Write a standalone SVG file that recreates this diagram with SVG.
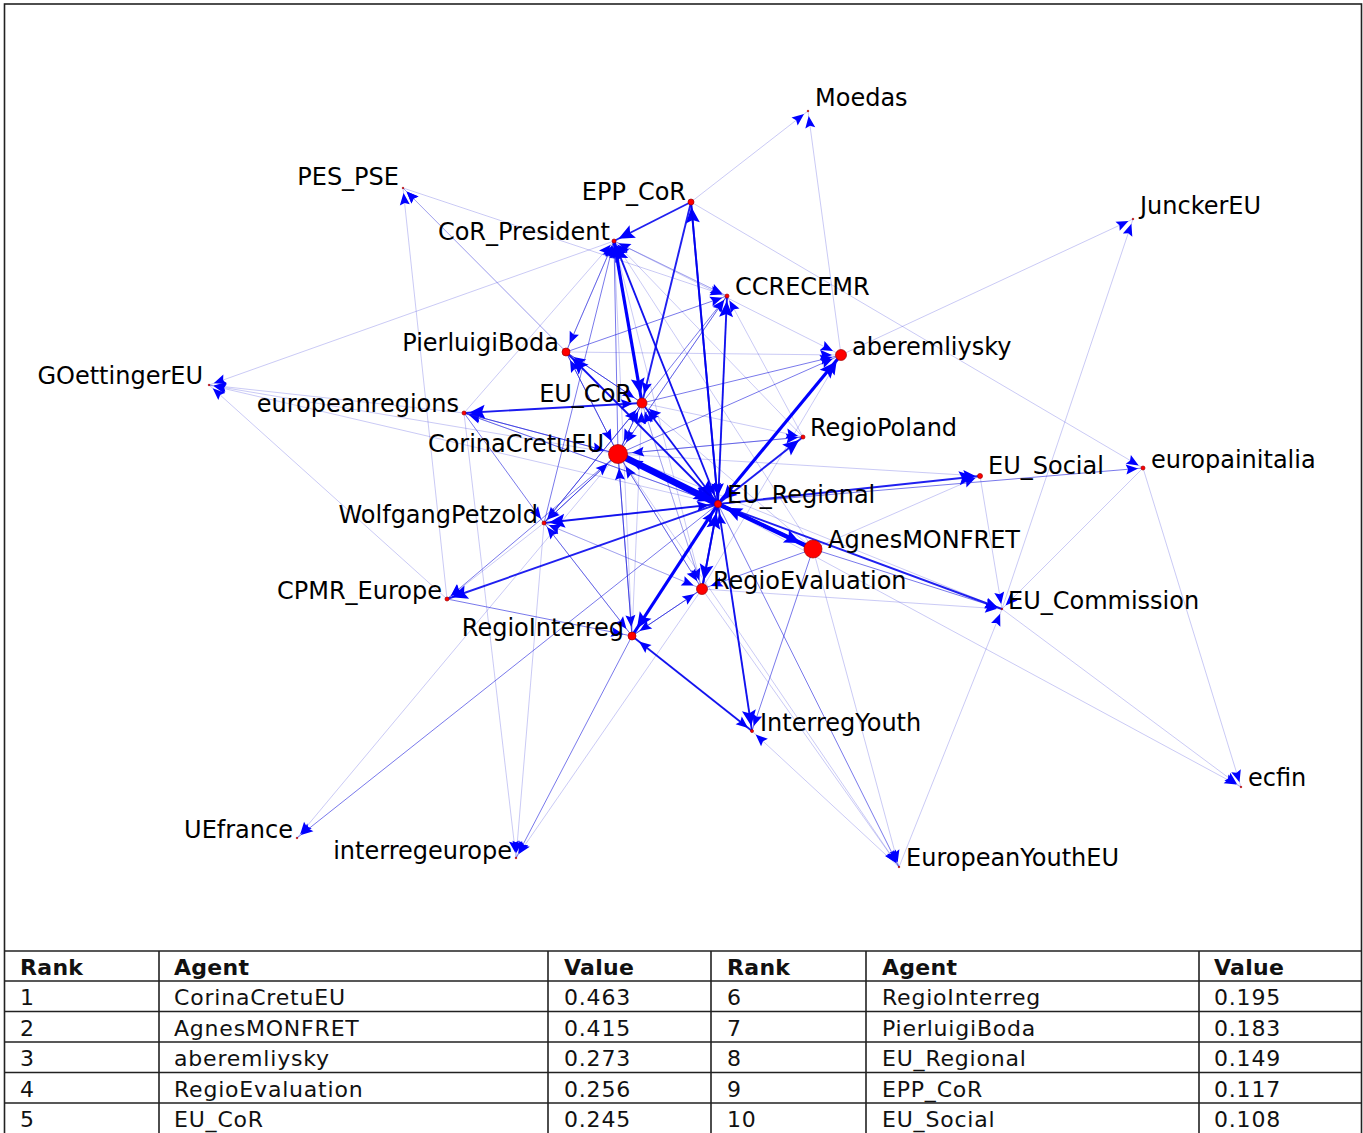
<svg xmlns="http://www.w3.org/2000/svg" width="1363" height="1133" viewBox="0 0 1363 1133">
<style>
.lbl{font-family:"DejaVu Sans",Verdana,sans-serif;font-size:24px;fill:#000}
.end{text-anchor:end}
.e1{stroke:#3030d8;stroke-opacity:.32;stroke-width:.8}
.e2{stroke:#2020dd;stroke-opacity:.6;stroke-width:1}
.e3{stroke:#0000ee;stroke-opacity:.88;stroke-width:1.9}
.e4{stroke:#0000ff;stroke-width:3.2}
.e5{stroke:#0000ff;stroke-width:4.2}
.e6{stroke:#0000ff;stroke-width:6.5}
.s5{marker-end:url(#a5)}.s9{marker-end:url(#a9)}.s14{marker-end:url(#a14)}
.b5{marker-end:url(#b5)}.b9{marker-end:url(#b9)}.b14{marker-end:url(#b14)}
.dot{fill:#ff0000;stroke:#a00000;stroke-width:.7}
.tk{font-family:"DejaVu Sans",sans-serif;font-size:22px;letter-spacing:.8px;fill:#111}
.th{font-family:"DejaVu Sans",sans-serif;font-size:22px;font-weight:bold;letter-spacing:.3px;fill:#111}
.grid{stroke:#222;stroke-width:1.6;fill:none}
</style>
<defs>
<marker id="a5" markerUnits="userSpaceOnUse" orient="auto" viewBox="-40 -20 45 40" markerWidth="45" markerHeight="40" refX="0" refY="0"><path d="M-5,0 L-17,-5 L-15,0 L-17,5 Z" fill="#0000ff"/></marker>
<marker id="a9" markerUnits="userSpaceOnUse" orient="auto" viewBox="-40 -20 45 40" markerWidth="45" markerHeight="40" refX="0" refY="0"><path d="M-9,0 L-21,-5 L-19,0 L-21,5 Z" fill="#0000ff"/></marker>
<marker id="a14" markerUnits="userSpaceOnUse" orient="auto" viewBox="-40 -20 45 40" markerWidth="45" markerHeight="40" refX="0" refY="0"><path d="M-14,0 L-26,-5 L-24,0 L-26,5 Z" fill="#0000ff"/></marker>
<marker id="b5" markerUnits="userSpaceOnUse" orient="auto" viewBox="-40 -20 45 40" markerWidth="45" markerHeight="40" refX="0" refY="0"><path d="M-5,0 L-21,-7 L-18,0 L-21,7 Z" fill="#0000ff"/></marker>
<marker id="b9" markerUnits="userSpaceOnUse" orient="auto" viewBox="-40 -20 45 40" markerWidth="45" markerHeight="40" refX="0" refY="0"><path d="M-9,0 L-25,-7 L-22,0 L-25,7 Z" fill="#0000ff"/></marker>
<marker id="b14" markerUnits="userSpaceOnUse" orient="auto" viewBox="-40 -20 45 40" markerWidth="45" markerHeight="40" refX="0" refY="0"><path d="M-14,0 L-30,-7 L-27,0 L-30,7 Z" fill="#0000ff"/></marker>
</defs>
<rect x="0" y="0" width="1363" height="1133" fill="#fff"/>
<rect x="4.5" y="4" width="1357" height="1140" fill="none" stroke="#222" stroke-width="1.6"/>

<g id="connectors" fill="none">
<line x1="618" y1="454" x2="1002" y2="609" class="e1 s5"/>
<line x1="980" y1="476" x2="1002" y2="609" class="e1 s5"/>
<line x1="1143" y1="468" x2="1002" y2="609" class="e1 s5"/>
<line x1="899" y1="867" x2="1002" y2="609" class="e1 s5"/>
<line x1="702" y1="589" x2="544" y2="523" class="e1 s5"/>
<line x1="632" y1="636" x2="544" y2="523" class="e1 s5"/>
<line x1="544" y1="523" x2="447" y2="599" class="e1 s5"/>
<line x1="447" y1="599" x2="403" y2="188" class="e1 s5"/>
<line x1="447" y1="599" x2="209" y2="385" class="e1 s5"/>
<line x1="464" y1="413" x2="209" y2="385" class="e1 s5"/>
<line x1="618" y1="454" x2="209" y2="385" class="e1 s5"/>
<line x1="718" y1="504" x2="209" y2="385" class="e1 s5"/>
<line x1="614" y1="241" x2="209" y2="385" class="e1 s5"/>
<line x1="614" y1="241" x2="566" y2="352" class="e1 s9"/>
<line x1="614" y1="241" x2="727" y2="296" class="e1 s5"/>
<line x1="803" y1="437" x2="727" y2="296" class="e1 s5"/>
<line x1="632" y1="636" x2="614" y2="241" class="e1 s5"/>
<line x1="727" y1="296" x2="614" y2="241" class="e1 s5"/>
<line x1="702" y1="589" x2="614" y2="241" class="e1 s5"/>
<line x1="813" y1="549" x2="614" y2="241" class="e1 s5"/>
<line x1="464" y1="413" x2="614" y2="241" class="e1 s5"/>
<line x1="803" y1="437" x2="614" y2="241" class="e1 s5"/>
<line x1="566" y1="352" x2="841" y2="355" class="e1 s9"/>
<line x1="614" y1="241" x2="841" y2="355" class="e1 s9"/>
<line x1="702" y1="589" x2="841" y2="355" class="e1 s9"/>
<line x1="841" y1="355" x2="808" y2="111" class="e1 s5"/>
<line x1="691" y1="202" x2="808" y2="111" class="e1 s5"/>
<line x1="841" y1="355" x2="1133" y2="219" class="e1 s5"/>
<line x1="642" y1="403" x2="803" y2="437" class="e1 s5"/>
<line x1="642" y1="403" x2="702" y2="589" class="e1 s9"/>
<line x1="544" y1="523" x2="702" y2="589" class="e1 s9"/>
<line x1="702" y1="589" x2="618" y2="454" class="e1 s14"/>
<line x1="813" y1="549" x2="618" y2="454" class="e1 s14"/>
<line x1="727" y1="296" x2="618" y2="454" class="e1 s14"/>
<line x1="803" y1="437" x2="618" y2="454" class="e1 s14"/>
<line x1="632" y1="636" x2="642" y2="403" class="e1 s9"/>
<line x1="464" y1="413" x2="642" y2="403" class="e1 s9"/>
<line x1="813" y1="549" x2="642" y2="403" class="e1 s9"/>
<line x1="702" y1="589" x2="642" y2="403" class="e1 s9"/>
<line x1="899" y1="867" x2="752" y2="731" class="e1 s5"/>
<line x1="618" y1="454" x2="899" y2="867" class="e1 s5"/>
<line x1="702" y1="589" x2="899" y2="867" class="e1 s5"/>
<line x1="813" y1="549" x2="899" y2="867" class="e1 s5"/>
<line x1="718" y1="504" x2="1241" y2="787" class="e1 s5"/>
<line x1="1002" y1="609" x2="1241" y2="787" class="e1 s5"/>
<line x1="1143" y1="468" x2="1241" y2="787" class="e1 s5"/>
<line x1="618" y1="454" x2="297" y2="838" class="e1 s5"/>
<line x1="702" y1="589" x2="516" y2="858" class="e1 s5"/>
<line x1="464" y1="413" x2="516" y2="858" class="e1 s5"/>
<line x1="544" y1="523" x2="516" y2="858" class="e1 s5"/>
<line x1="566" y1="352" x2="403" y2="188" class="e1 s5"/>
<line x1="718" y1="504" x2="403" y2="188" class="e1 s5"/>
<line x1="403" y1="188" x2="727" y2="296" class="e1 s5"/>
<line x1="691" y1="202" x2="1143" y2="468" class="e1 s5"/>
<line x1="1002" y1="609" x2="1133" y2="219" class="e1 s5"/>
<line x1="618" y1="454" x2="980" y2="476" class="e1 s5"/>
<line x1="813" y1="549" x2="980" y2="476" class="e1 s5"/>
<line x1="702" y1="589" x2="1002" y2="609" class="e1 s5"/>
<line x1="464" y1="413" x2="718" y2="504" class="e1 s9"/>
<line x1="803" y1="437" x2="718" y2="504" class="e1 s9"/>

<line x1="632" y1="636" x2="718" y2="504" class="e2 s9"/>
<line x1="718" y1="504" x2="642" y2="403" class="e2 s9"/>
<line x1="632" y1="636" x2="752" y2="731" class="e2 s5"/>
<line x1="718" y1="504" x2="1143" y2="468" class="e2 s5"/>
<line x1="813" y1="549" x2="1002" y2="609" class="e2 s5"/>
<line x1="618" y1="454" x2="544" y2="523" class="e2 s5"/>
<line x1="642" y1="403" x2="544" y2="523" class="e2 s5"/>
<line x1="464" y1="413" x2="544" y2="523" class="e2 s5"/>
<line x1="618" y1="454" x2="447" y2="599" class="e2 s5"/>
<line x1="447" y1="599" x2="632" y2="636" class="e2 s9"/>
<line x1="618" y1="454" x2="464" y2="413" class="e2 s5"/>
<line x1="718" y1="504" x2="464" y2="413" class="e2 s5"/>
<line x1="618" y1="454" x2="566" y2="352" class="e2 s9"/>
<line x1="642" y1="403" x2="566" y2="352" class="e2 s9"/>
<line x1="566" y1="352" x2="614" y2="241" class="e2 s5"/>
<line x1="566" y1="352" x2="642" y2="403" class="e2 s9"/>
<line x1="566" y1="352" x2="718" y2="504" class="e2 s9"/>
<line x1="642" y1="403" x2="727" y2="296" class="e2 s5"/>
<line x1="618" y1="454" x2="727" y2="296" class="e2 s5"/>
<line x1="566" y1="352" x2="727" y2="296" class="e2 s5"/>
<line x1="727" y1="296" x2="718" y2="504" class="e2 s9"/>
<line x1="618" y1="454" x2="614" y2="241" class="e2 s5"/>
<line x1="544" y1="523" x2="614" y2="241" class="e2 s5"/>
<line x1="642" y1="403" x2="614" y2="241" class="e2 s5"/>
<line x1="614" y1="241" x2="718" y2="504" class="e2 s9"/>
<line x1="618" y1="454" x2="841" y2="355" class="e2 s9"/>
<line x1="642" y1="403" x2="841" y2="355" class="e2 s9"/>
<line x1="618" y1="454" x2="803" y2="437" class="e2 s5"/>
<line x1="618" y1="454" x2="702" y2="589" class="e2 s9"/>
<line x1="632" y1="636" x2="702" y2="589" class="e2 s9"/>
<line x1="813" y1="549" x2="702" y2="589" class="e2 s9"/>
<line x1="618" y1="454" x2="632" y2="636" class="e2 s9"/>
<line x1="702" y1="589" x2="632" y2="636" class="e2 s9"/>
<line x1="544" y1="523" x2="632" y2="636" class="e2 s9"/>
<line x1="642" y1="403" x2="618" y2="454" class="e2 s14"/>
<line x1="566" y1="352" x2="618" y2="454" class="e2 s14"/>
<line x1="544" y1="523" x2="618" y2="454" class="e2 s14"/>
<line x1="464" y1="413" x2="618" y2="454" class="e2 s14"/>
<line x1="632" y1="636" x2="618" y2="454" class="e2 s14"/>
<line x1="618" y1="454" x2="642" y2="403" class="e2 s9"/>
<line x1="544" y1="523" x2="642" y2="403" class="e2 s9"/>
<line x1="752" y1="731" x2="718" y2="504" class="e2 s9"/>
<line x1="544" y1="523" x2="718" y2="504" class="e2 s9"/>
<line x1="841" y1="355" x2="718" y2="504" class="e2 s9"/>
<line x1="813" y1="549" x2="752" y2="731" class="e2 s5"/>
<line x1="718" y1="504" x2="899" y2="867" class="e2 s5"/>
<line x1="718" y1="504" x2="297" y2="838" class="e2 s5"/>
<line x1="632" y1="636" x2="516" y2="858" class="e2 s5"/>

<line x1="718" y1="504" x2="618" y2="454" class="e3 s14"/>
<line x1="718" y1="504" x2="803" y2="437" class="e3 b5"/>
<line x1="718" y1="504" x2="702" y2="589" class="e3 b9"/>
<line x1="702" y1="589" x2="718" y2="504" class="e3 b9"/>
<line x1="691" y1="202" x2="614" y2="241" class="e3 b5"/>
<line x1="691" y1="202" x2="642" y2="403" class="e3 s9"/>
<line x1="642" y1="403" x2="718" y2="504" class="e3 b9"/>
<line x1="718" y1="504" x2="752" y2="731" class="e3 b5"/>
<line x1="752" y1="731" x2="632" y2="636" class="e3 s9"/>
<line x1="718" y1="504" x2="980" y2="476" class="e3 b5"/>
<line x1="718" y1="504" x2="1002" y2="609" class="e3 s5"/>
<line x1="718" y1="504" x2="544" y2="523" class="e3 b5"/>
<line x1="718" y1="504" x2="447" y2="599" class="e3 b5"/>
<line x1="642" y1="403" x2="464" y2="413" class="e3 b5"/>
<line x1="718" y1="504" x2="566" y2="352" class="e3 b9"/>
<line x1="718" y1="504" x2="727" y2="296" class="e3 b5"/>
<line x1="718" y1="504" x2="614" y2="241" class="e3 b5"/>
<line x1="718" y1="504" x2="691" y2="202" class="e3 b5"/>
<line x1="691" y1="202" x2="718" y2="504" class="e3 s9"/>

<line x1="813" y1="549" x2="718" y2="504" class="e4 b9"/>
<line x1="718" y1="504" x2="841" y2="355" class="e4 b9"/>
<line x1="718" y1="504" x2="632" y2="636" class="e4 b9"/>
<line x1="614" y1="241" x2="642" y2="403" class="e4 b9"/>
<line x1="718" y1="504" x2="813" y2="549" class="e5 b14"/>
<line x1="618" y1="454" x2="718" y2="504" class="e6 b9"/>
</g>

<g id="node-Moedas"><circle cx="808" cy="111" r="0.8" class="dot"/><text x="815" y="105.5" class="lbl">Moedas</text></g>
<g id="node-PES_PSE"><circle cx="403" cy="188" r="0.8" class="dot"/><text x="399" y="184.5" class="lbl end">PES_PSE</text></g>
<g id="node-EPP_CoR"><circle cx="691" cy="202" r="3" class="dot"/><text x="686" y="199.5" class="lbl end">EPP_CoR</text></g>
<g id="node-CoR_President"><circle cx="614" cy="241" r="2" class="dot"/><text x="610" y="239.5" class="lbl end">CoR_President</text></g>
<g id="node-JunckerEU"><circle cx="1133" cy="219" r="0.8" class="dot"/><text x="1140" y="213.5" class="lbl">JunckerEU</text></g>
<g id="node-CCRECEMR"><circle cx="727" cy="296" r="2" class="dot"/><text x="735" y="294.5" class="lbl">CCRECEMR</text></g>
<g id="node-aberemliysky"><circle cx="841" cy="355" r="5.5" class="dot"/><text x="852" y="354.5" class="lbl">aberemliysky</text></g>
<g id="node-PierluigiBoda"><circle cx="566" cy="352" r="4" class="dot"/><text x="559" y="350.5" class="lbl end">PierluigiBoda</text></g>
<g id="node-GOettingerEU"><circle cx="209" cy="385" r="0.8" class="dot"/><text x="203" y="383.5" class="lbl end">GOettingerEU</text></g>
<g id="node-europeanregions"><circle cx="464" cy="413" r="2" class="dot"/><text x="459" y="411.5" class="lbl end">europeanregions</text></g>
<g id="node-EU_CoR"><circle cx="642" cy="403" r="5" class="dot"/><text x="632" y="401.5" class="lbl end">EU_CoR</text></g>
<g id="node-RegioPoland"><circle cx="803" cy="437" r="2" class="dot"/><text x="810" y="435.5" class="lbl">RegioPoland</text></g>
<g id="node-CorinaCretuEU"><circle cx="618" cy="454" r="9.5" class="dot"/><text x="604" y="451.5" class="lbl end">CorinaCretuEU</text></g>
<g id="node-EU_Social"><circle cx="980" cy="476" r="2.5" class="dot"/><text x="988" y="473.5" class="lbl">EU_Social</text></g>
<g id="node-europainitalia"><circle cx="1143" cy="468" r="2" class="dot"/><text x="1151" y="467.5" class="lbl">europainitalia</text></g>
<g id="node-EU_Regional"><circle cx="718" cy="504" r="3.5" class="dot"/><text x="727" y="502.5" class="lbl">EU_Regional</text></g>
<g id="node-WolfgangPetzold"><circle cx="544" cy="523" r="2" class="dot"/><text x="538" y="522.5" class="lbl end">WolfgangPetzold</text></g>
<g id="node-AgnesMONFRET"><circle cx="813" cy="549" r="9" class="dot"/><text x="828" y="547.5" class="lbl">AgnesMONFRET</text></g>
<g id="node-RegioEvaluation"><circle cx="702" cy="589" r="5.5" class="dot"/><text x="713" y="588.5" class="lbl">RegioEvaluation</text></g>
<g id="node-CPMR_Europe"><circle cx="447" cy="599" r="2" class="dot"/><text x="442" y="598.5" class="lbl end">CPMR_Europe</text></g>
<g id="node-EU_Commission"><circle cx="1002" cy="609" r="0.8" class="dot"/><text x="1008" y="608.5" class="lbl">EU_Commission</text></g>
<g id="node-RegioInterreg"><circle cx="632" cy="636" r="4" class="dot"/><text x="624" y="635.5" class="lbl end">RegioInterreg</text></g>
<g id="node-InterregYouth"><circle cx="752" cy="731" r="1.5" class="dot"/><text x="760" y="730.5" class="lbl">InterregYouth</text></g>
<g id="node-ecfin"><circle cx="1241" cy="787" r="0.8" class="dot"/><text x="1248" y="785.5" class="lbl">ecfin</text></g>
<g id="node-UEfrance"><circle cx="297" cy="838" r="0.8" class="dot"/><text x="293" y="837.5" class="lbl end">UEfrance</text></g>
<g id="node-interregeurope"><circle cx="516" cy="858" r="0.8" class="dot"/><text x="512" y="858.5" class="lbl end">interregeurope</text></g>
<g id="node-EuropeanYouthEU"><circle cx="899" cy="867" r="0.8" class="dot"/><text x="906" y="865.5" class="lbl">EuropeanYouthEU</text></g>

<g id="table">
<path class="grid" d="M4.5,951H1362M4.5,981H1362M4.5,1011.5H1362M4.5,1042H1362M4.5,1072.5H1362M4.5,1103H1362M159,951V1140M548,951V1140M711,951V1140M866,951V1140M1199,951V1140"/>
<text x="20" y="975" class="th">Rank</text><text x="174" y="975" class="th">Agent</text><text x="564" y="975" class="th">Value</text>
<text x="727" y="975" class="th">Rank</text><text x="882" y="975" class="th">Agent</text><text x="1214" y="975" class="th">Value</text>
<text x="20" y="1005" class="tk">1</text><text x="174" y="1005" class="tk">CorinaCretuEU</text><text x="564" y="1005" class="tk">0.463</text>
<text x="727" y="1005" class="tk">6</text><text x="882" y="1005" class="tk">RegioInterreg</text><text x="1214" y="1005" class="tk">0.195</text>
<text x="20" y="1035.5" class="tk">2</text><text x="174" y="1035.5" class="tk">AgnesMONFRET</text><text x="564" y="1035.5" class="tk">0.415</text>
<text x="727" y="1035.5" class="tk">7</text><text x="882" y="1035.5" class="tk">PierluigiBoda</text><text x="1214" y="1035.5" class="tk">0.183</text>
<text x="20" y="1066" class="tk">3</text><text x="174" y="1066" class="tk">aberemliysky</text><text x="564" y="1066" class="tk">0.273</text>
<text x="727" y="1066" class="tk">8</text><text x="882" y="1066" class="tk">EU_Regional</text><text x="1214" y="1066" class="tk">0.149</text>
<text x="20" y="1096.5" class="tk">4</text><text x="174" y="1096.5" class="tk">RegioEvaluation</text><text x="564" y="1096.5" class="tk">0.256</text>
<text x="727" y="1096.5" class="tk">9</text><text x="882" y="1096.5" class="tk">EPP_CoR</text><text x="1214" y="1096.5" class="tk">0.117</text>
<text x="20" y="1127" class="tk">5</text><text x="174" y="1127" class="tk">EU_CoR</text><text x="564" y="1127" class="tk">0.245</text>
<text x="727" y="1127" class="tk">10</text><text x="882" y="1127" class="tk">EU_Social</text><text x="1214" y="1127" class="tk">0.108</text>
</g>
</svg>
